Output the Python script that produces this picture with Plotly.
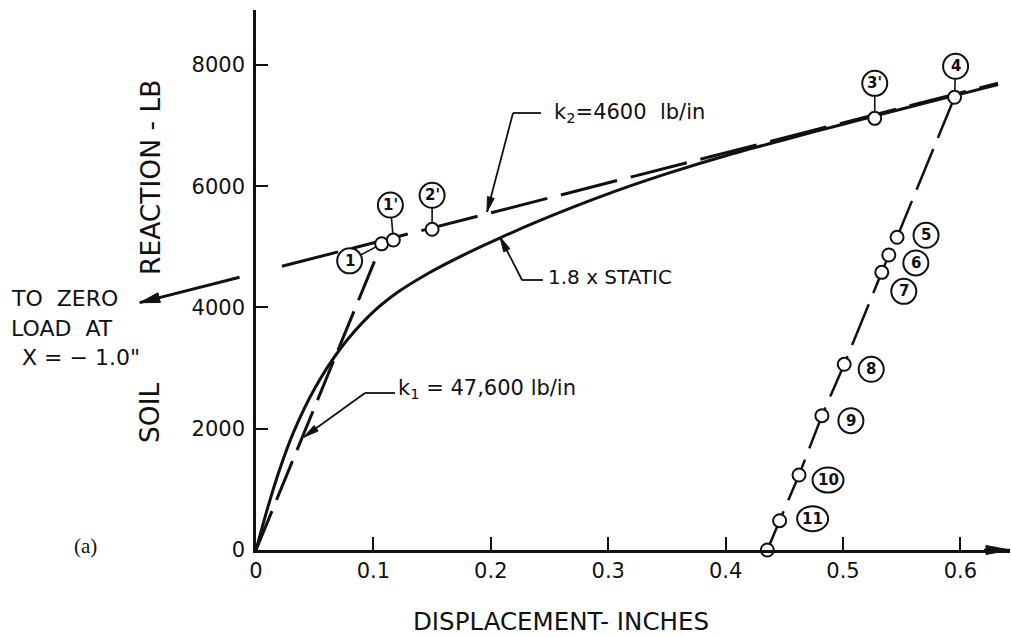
import math
import plotly.graph_objects as go

# ---------------- data ----------------
X_TICKS = [0, 0.1, 0.2, 0.3, 0.4, 0.5, 0.6]
X_TICK_TEXT = ["0", "0.1", "0.2", "0.3", "0.4", "0.5", "0.6"]
Y_TICKS = [0, 2000, 4000, 6000, 8000]
Y_TICK_TEXT = ["0", "2000", "4000", "6000", "8000"]

# 1.8 x static curve
STATIC_X = [0, 0.01, 0.02, 0.032, 0.05, 0.072, 0.097, 0.12, 0.148, 0.18, 0.208,
            0.24, 0.262, 0.29, 0.32, 0.35, 0.4, 0.45, 0.5, 0.55, 0.6, 0.632]
STATIC_Y = [0, 700, 1320, 1944, 2664, 3324, 3874, 4242, 4578, 4898, 5150,
            5419, 5593, 5803, 6013, 6208, 6503, 6768, 7023, 7273, 7520, 7678]

# k1 = 47,600 lb/in loading line
K1_X = [0, 0.107]
K1_Y = [0, 5050]

# k2 = 4600 lb/in line, and its extension towards zero load at x = -1.0"
K2_X = [0.022, 0.632]
K2_Y = [4680, 7700]
K2_EXT_X = [-0.014, -0.099]
K2_EXT_Y = [4500, 4080]

# test points
PT_LABELS = ["1", "1'", "2'", "3'", "4", "5", "6", "7", "8", "9", "10", "11", ""]
PT_X = [0.107, 0.117, 0.150, 0.527, 0.595, 0.546, 0.539, 0.533, 0.501, 0.482, 0.4625, 0.446, 0.4355]
PT_Y = [5050, 5113, 5290, 7120, 7467, 5158, 4866, 4580, 3063, 2215, 1237, 483, 0]
UNLOAD_FROM = 4  # unloading line runs from point 4 to the last point

# ---------------- layout geometry ----------------
W, H = 1011, 637
ML, MR, MT, MB = 256, 1, 10, 87
PW, PH = W - ML - MR, H - MT - MB
X_RANGE = [0, 0.6422]
Y_RANGE = [0, 8907]
FONT = "DejaVu Sans"
INK = "#111111"


def dx(px):
    return (px - ML) / PW * (X_RANGE[1] - X_RANGE[0]) + X_RANGE[0]


def dy(py):
    return (MT + PH - py) / PH * (Y_RANGE[1] - Y_RANGE[0]) + Y_RANGE[0]


def px_(px):
    return (px - ML) / PW


def py_(py):
    return (MT + PH - py) / PH


X_PPU = PW / (X_RANGE[1] - X_RANGE[0])
Y_PPU = PH / (Y_RANGE[1] - Y_RANGE[0])

# label bubble offsets in pixels (dx right, dy down) and whether a leader is drawn
LABEL_OFFSETS = {
    "1": (-32, 17, True), "1'": (-3, -35, True), "2'": (0, -34, True),
    "3'": (0, -35, True), "4": (1, -31, True), "5": (29, -2, False),
    "6": (27, 8, False), "7": (22, 19, False), "8": (27, 5, False),
    "9": (29, 5, False), "10": (29, 5, False), "11": (33, -2, False),
}

shapes = []
annotations = []


def arrow(xref, yref, tipx, tipy, tail_dx, tail_dy, width, head_len, head_w):
    """Line from a tail (pixel offset right/down from the tip) to the tip, with a filled head."""
    base = dict(xref=xref, yref=yref, xsizemode="pixel", ysizemode="pixel",
                xanchor=tipx, yanchor=tipy)
    shapes.append(dict(type="line", x0=0, y0=0, x1=tail_dx, y1=-tail_dy,
                       line=dict(color=INK, width=width), **base))
    ux, uy = -tail_dx, tail_dy          # tail -> tip direction (y up)
    n = math.hypot(ux, uy)
    ux, uy = ux / n, uy / n
    nx, ny = -uy, ux
    b1 = (-ux * head_len + nx * head_w, -uy * head_len + ny * head_w)
    b2 = (-ux * head_len - nx * head_w, -uy * head_len - ny * head_w)
    path = "M 0,0 L {:.2f},{:.2f} L {:.2f},{:.2f} Z".format(b1[0], b1[1], b2[0], b2[1])
    shapes.append(dict(type="path", path=path, fillcolor=INK,
                       line=dict(color=INK, width=1), **base))


fig = go.Figure()

fig.add_trace(go.Scatter(x=K2_X, y=K2_Y, mode="lines",
                         line=dict(color=INK, width=3, dash="58px,14px"),
                         hoverinfo="skip", showlegend=False))
fig.add_trace(go.Scatter(x=PT_X[UNLOAD_FROM:], y=PT_Y[UNLOAD_FROM:], mode="lines",
                         line=dict(color=INK, width=2.5, dash="44px,12px"),
                         hoverinfo="skip", showlegend=False))
fig.add_trace(go.Scatter(x=K1_X, y=K1_Y, mode="lines",
                         line=dict(color=INK, width=3, dash="42px,12px"),
                         hoverinfo="skip", showlegend=False))
fig.add_trace(go.Scatter(x=STATIC_X, y=STATIC_Y, mode="lines",
                         line=dict(color=INK, width=3, shape="spline", smoothing=0.8),
                         hoverinfo="skip", showlegend=False))
fig.add_trace(go.Scatter(x=PT_X, y=PT_Y, mode="markers",
                         marker=dict(symbol="circle", size=13, color="white",
                                     line=dict(color=INK, width=2)),
                         cliponaxis=False, hoverinfo="skip", showlegend=False))

R = 12.5
for lab, x, y in zip(PT_LABELS, PT_X, PT_Y):
    if not lab:
        continue
    ox, oy, leader = LABEL_OFFSETS[lab]
    if leader:
        shapes.append(dict(type="line", xref="x", yref="y", xsizemode="pixel", ysizemode="pixel",
                           xanchor=x, yanchor=y, x0=0, y0=0, x1=ox, y1=-oy,
                           line=dict(color=INK, width=1.6), layer="below"))
    rx = R + (3 if len(lab.replace("'", "")) > 1 else 0)
    shapes.append(dict(type="circle", xref="x", yref="y", xsizemode="pixel", ysizemode="pixel",
                       xanchor=x, yanchor=y, x0=ox - rx, x1=ox + rx, y0=-oy - R, y1=-oy + R,
                       line=dict(color=INK, width=2), fillcolor="white", layer="above"))
    annotations.append(dict(x=x, y=y, xref="x", yref="y", xshift=ox, yshift=-oy,
                            text="<b>" + lab + "</b>", showarrow=False,
                            xanchor="center", yanchor="middle",
                            font=dict(family=FONT, size=15, color=INK)))

# leader for k2 label
arrow("x", "y", dx(487), dy(212), 26, -99, 1.8, 15, 3.5)
shapes.append(dict(type="line", xref="x", yref="y", x0=dx(513), x1=dx(541), y0=dy(113), y1=dy(113),
                   line=dict(color=INK, width=1.8)))
annotations.append(dict(x=dx(552), y=dy(113), xref="x", yref="y", xanchor="left", yanchor="middle",
                        text="k<sub>2</sub>=4600  lb/in", showarrow=False,
                        font=dict(family=FONT, size=21, color=INK)))

# leader for 1.8 x static
arrow("x", "y", dx(500), dy(237), 22, 43, 1.8, 15, 3.5)
shapes.append(dict(type="line", xref="x", yref="y", x0=dx(522), x1=dx(543), y0=dy(280), y1=dy(280),
                   line=dict(color=INK, width=1.8)))
annotations.append(dict(x=dx(546), y=dy(277), xref="x", yref="y", xanchor="left", yanchor="middle",
                        text="1.8 x STATIC", showarrow=False,
                        font=dict(family=FONT, size=20, color=INK)))

# leader for k1
arrow("x", "y", dx(304), dy(437), 61, -44, 1.8, 15, 3.5)
shapes.append(dict(type="line", xref="x", yref="y", x0=dx(365), x1=dx(395), y0=dy(393), y1=dy(393),
                   line=dict(color=INK, width=1.8)))
annotations.append(dict(x=dx(396), y=dy(389), xref="x", yref="y", xanchor="left", yanchor="middle",
                        text="k<sub>1</sub> = 47,600 lb/in", showarrow=False,
                        font=dict(family=FONT, size=21, color=INK)))

# arrow towards zero load at x = -1.0"
arrow("paper", "paper", px_(ML + K2_EXT_X[1] * X_PPU), py_(MT + PH - K2_EXT_Y[1] * Y_PPU),
      (K2_EXT_X[0] - K2_EXT_X[1]) * X_PPU, -(K2_EXT_Y[0] - K2_EXT_Y[1]) * Y_PPU,
      3, 20, 5)
for txt, lx, ly in [("TO  ZERO", 9, 298), ("LOAD  AT", 9, 328), ("X = \u2212 1.0\"", 20, 358)]:
    annotations.append(dict(x=px_(lx), y=py_(ly), xref="paper", yref="paper", xanchor="left",
                            yanchor="middle", text=txt, showarrow=False,
                            font=dict(family=FONT, size=22, color=INK)))

# x axis arrow head
arrow("paper", "paper", 1.0, 0.0, -26, 0, 2.5, 24, 4.5)

# axis titles
annotations.append(dict(x=px_(150), y=py_(178), xref="paper", yref="paper", text="REACTION - LB",
                        textangle=-90, showarrow=False, xanchor="center", yanchor="middle",
                        font=dict(family=FONT, size=26.5, color=INK)))
annotations.append(dict(x=px_(150), y=py_(413), xref="paper", yref="paper", text="SOIL",
                        textangle=-90, showarrow=False, xanchor="center", yanchor="middle",
                        font=dict(family=FONT, size=26.5, color=INK)))
annotations.append(dict(x=px_(561), y=py_(621), xref="paper", yref="paper",
                        text="DISPLACEMENT- INCHES", showarrow=False, xanchor="center",
                        yanchor="middle", font=dict(family=FONT, size=24.5, color=INK)))
annotations.append(dict(x=px_(85), y=py_(546), xref="paper", yref="paper", text="(a)",
                        showarrow=False, xanchor="center", yanchor="middle",
                        font=dict(family="Liberation Serif", size=21, color=INK)))

fig.update_layout(
    width=W, height=H,
    margin=dict(l=ML, r=MR, t=MT, b=MB, pad=0),
    paper_bgcolor="white", plot_bgcolor="white",
    showlegend=False,
    shapes=shapes, annotations=annotations,
    xaxis=dict(range=X_RANGE, tickvals=X_TICKS, ticktext=X_TICK_TEXT,
               showline=True, linecolor=INK, linewidth=2.5, showgrid=False, zeroline=False,
               ticks="inside", ticklen=13, tickwidth=2, tickcolor=INK, ticklabelstandoff=0,
               tickfont=dict(family=FONT, size=21, color=INK), fixedrange=True),
    yaxis=dict(range=Y_RANGE, tickvals=Y_TICKS, ticktext=Y_TICK_TEXT,
               showline=True, linecolor=INK, linewidth=2.5, showgrid=False, zeroline=False,
               ticks="inside", ticklen=12, tickwidth=2, tickcolor=INK, ticklabelstandoff=4,
               tickfont=dict(family=FONT, size=21, color=INK), fixedrange=True),
)

fig.write_html("out.html")
